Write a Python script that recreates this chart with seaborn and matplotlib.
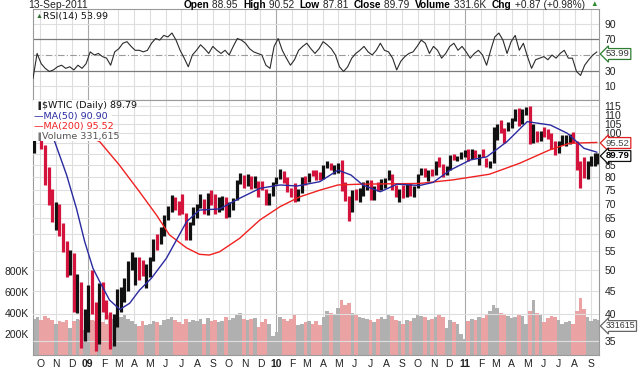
import numpy as np
import pandas as pd
import matplotlib
matplotlib.use("Agg")
import matplotlib.pyplot as plt
from matplotlib.patches import Rectangle
from matplotlib.ticker import FixedLocator, FixedFormatter, NullLocator
import seaborn as sns

# ---------------- data ----------------
week_dates = list(pd.date_range("2008-09-19", "2011-09-09", freq="W-FRI")) + [pd.Timestamp("2011-09-13")]

week_close = [
    104.5, 106.9, 93.9, 77.7, 71.9, 64.2, 67.8, 61.0, 57.0, 49.9, 54.4, 40.8, 46.3, 35.5, 37.7,
    46.3, 40.8, 36.5, 46.5, 41.7, 40.2, 37.5, 38.9, 44.8, 45.5, 46.3, 51.1, 52.4,
    52.5, 52.2, 50.3, 51.6, 53.2, 58.6, 56.3, 61.7, 66.3, 68.4, 72.0, 69.6, 69.2,
    66.7, 59.9, 63.6, 68.1, 69.5, 70.9, 67.5, 73.9, 72.7, 68.0, 69.3, 72.0, 66.0,
    70.0, 71.8, 78.5, 80.5, 77.0, 77.4, 76.4, 76.7, 76.1, 75.5, 69.9, 73.4, 78.1, 79.4,
    82.8, 78.0, 74.5, 72.9, 71.2, 74.1, 79.8, 79.7, 81.5, 81.2, 80.7, 80.0,
    84.9, 84.9, 83.2, 85.1, 86.2, 75.1, 71.6, 70.0, 74.0, 71.5, 73.8, 77.2, 78.9,
    72.1, 76.1, 76.0, 79.0, 79.0, 80.7, 75.4, 73.5, 75.2, 74.6, 76.5, 73.7, 76.5,
    81.6, 82.7, 81.3, 81.7, 81.4, 86.9, 84.9, 81.5, 83.8, 89.2, 87.8, 88.0, 90.8, 91.4,
    88.0, 91.5, 89.1, 89.3, 89.0, 85.6, 86.2, 97.9, 104.4, 101.2, 101.1, 105.4, 107.9,
    112.8, 109.7, 112.3, 113.9, 97.2, 99.7, 99.5, 100.6, 100.2, 99.3, 93.0, 91.2, 94.9,
    96.2, 97.2, 99.9, 95.7, 86.9, 85.4, 82.3, 85.4, 86.5, 87.2, 89.8,
]
week_high = [
    105.0, 120.9, 107.0, 94.5, 84.5, 75.5, 70.5, 70.0, 63.5, 58.0, 55.5, 54.5, 49.0, 47.0, 41.0,
    46.5, 50.0, 42.5, 46.8, 47.0, 43.0, 40.5, 40.0, 45.5, 46.0, 48.0, 52.5, 54.7,
    53.5, 53.5, 52.7, 51.7, 53.5, 58.7, 60.1, 62.3, 66.3, 69.1, 73.2, 72.5, 71.0,
    73.4, 66.8, 63.8, 68.8, 70.0, 73.4, 71.6, 74.0, 75.0, 73.4, 72.5, 73.0, 72.4,
    70.8, 72.0, 78.9, 82.0, 81.0, 81.6, 80.6, 80.5, 78.5, 78.5, 75.5, 74.0, 78.2, 80.0,
    83.5, 82.5, 80.0, 75.9, 77.8, 75.5, 80.0, 80.5, 81.7, 83.2, 83.0, 82.3,
    85.0, 87.1, 86.0, 85.2, 86.2, 87.2, 78.3, 73.0, 75.0, 75.5, 76.0, 78.0, 79.0,
    79.0, 76.5, 78.0, 79.5, 79.6, 82.9, 81.6, 76.9, 75.3, 76.8, 77.4, 77.7, 76.5,
    81.6, 83.8, 84.1, 83.1, 83.5, 87.0, 88.6, 85.6, 84.6, 89.4, 90.0, 89.3, 90.9, 92.1,
    92.6, 92.6, 92.0, 89.9, 92.2, 88.1, 86.9, 103.4, 104.9, 106.9, 103.0, 106.0, 107.9,
    112.9, 113.5, 113.0, 114.0, 114.8, 104.6, 101.0, 101.4, 103.4, 102.4, 100.0, 96.0, 96.0,
    99.4, 99.0, 99.9, 100.6, 96.0, 87.0, 88.5, 86.9, 89.2, 90.5, 90.5,
]
week_low = [
    90.5, 103.5, 92.5, 77.0, 69.5, 63.7, 61.3, 59.5, 54.7, 48.3, 48.8, 40.5, 40.3, 33.8, 35.0,
    36.5, 40.0, 33.2, 34.4, 40.5, 39.0, 33.6, 34.0, 37.5, 40.5, 42.5, 45.0, 50.0,
    46.5, 47.5, 48.5, 45.7, 48.2, 52.5, 55.5, 57.0, 59.5, 64.5, 67.0, 67.8, 66.1,
    66.5, 58.3, 58.3, 63.0, 65.0, 68.5, 66.5, 66.0, 69.5, 66.5, 67.0, 68.0, 65.1,
    65.5, 68.0, 71.5, 77.5, 76.0, 76.5, 75.5, 76.0, 72.4, 75.0, 69.5, 69.5, 73.0, 77.5,
    79.5, 77.8, 74.3, 72.4, 70.8, 71.0, 74.0, 76.8, 78.0, 80.5, 78.9, 79.0,
    79.5, 84.0, 83.0, 81.6, 81.7, 74.8, 71.0, 64.2, 67.2, 71.2, 70.7, 73.0, 74.9,
    71.5, 71.3, 74.5, 75.0, 75.9, 79.0, 74.9, 72.5, 70.8, 71.9, 72.6, 72.8, 72.6,
    75.8, 80.9, 80.1, 78.6, 80.5, 81.0, 84.2, 80.1, 80.8, 83.0, 87.4, 86.8, 87.8, 88.8,
    87.1, 87.6, 88.2, 85.1, 88.5, 84.3, 83.9, 86.0, 96.5, 100.2, 95.2, 101.0, 102.8,
    106.7, 104.0, 105.0, 110.0, 94.6, 95.0, 95.8, 96.0, 98.0, 97.3, 92.4, 89.6, 90.6,
    94.1, 94.0, 94.8, 95.0, 82.9, 75.7, 79.6, 79.2, 84.7, 84.9, 85.5,
]
week_volume_k = [
    340, 360, 330, 370, 350, 330, 300, 320, 310, 330, 260, 320, 340, 330, 240,
    280, 330, 320, 350, 310, 300, 380, 340, 330, 360, 390, 340, 320,
    300, 280, 320, 290, 300, 320, 310, 290, 330, 340, 360, 330, 310,
    300, 340, 310, 330, 320, 340, 300, 350, 320, 330, 310, 320, 360,
    330, 350, 380, 400, 340, 330, 340, 350, 270, 310, 340, 300, 180, 220,
    360, 340, 320, 340, 380, 290, 300, 310, 320, 300, 320, 290,
    360, 420, 400, 380, 450, 520, 480, 500, 400, 380, 360, 350, 340,
    330, 310, 340, 360, 340, 380, 370, 330, 320, 300, 330, 320, 350,
    380, 370, 360, 330, 340, 360, 380, 360, 260, 330, 310, 300, 200, 150,
    320, 340, 330, 360, 350, 380, 420, 480, 450, 400, 380, 370, 350,
    360, 380, 370, 300, 420, 520, 400, 380, 310, 350, 370, 360, 330,
    300, 310, 320, 300, 420, 540, 440, 360, 320, 340, 332,
]
prev_close_before_start = 101.2

ma50_dates = ["2008-09-17", "2008-10-29", "2008-11-21", "2008-12-10", "2008-12-26", "2009-01-11",
              "2009-01-24", "2009-02-12", "2009-03-04", "2009-03-23", "2009-04-11", "2009-05-04",
              "2009-06-02", "2009-07-11", "2009-08-05", "2009-09-13", "2009-10-22", "2009-11-30",
              "2010-01-08", "2010-02-10", "2010-03-26", "2010-04-30", "2010-05-25", "2010-06-17",
              "2010-07-21", "2010-08-22", "2010-10-05", "2010-10-31", "2010-12-03", "2011-01-11",
              "2011-02-12", "2011-03-23", "2011-05-01", "2011-06-15", "2011-07-18", "2011-08-19",
              "2011-09-13"]
ma50_values = [118.5, 95.9, 81.0, 68.4, 57.8, 50.5, 47.2, 43.0, 41.0, 42.3, 45.2, 48.0,
               53.1, 63.9, 67.8, 68.2, 72.0, 75.7, 77.0, 76.6, 78.3, 83.0, 81.0, 77.0,
               74.4, 77.3, 76.8, 78.0, 83.0, 87.4, 88.8, 95.9, 106.1, 104.3, 100.0, 92.7, 90.9]

ma200_dates = ["2008-09-17", "2008-11-15", "2009-01-24", "2009-03-03", "2009-04-11", "2009-05-14",
               "2009-06-08", "2009-07-11", "2009-08-05", "2009-08-24", "2009-09-13", "2009-10-22",
               "2009-11-30", "2010-01-08", "2010-02-15", "2010-03-26", "2010-04-30", "2010-06-11",
               "2010-10-05", "2010-12-08", "2011-02-17", "2011-04-16", "2011-06-13", "2011-07-22",
               "2011-09-13"]
ma200_values = [112.0, 104.0, 95.9, 85.2, 74.4, 66.1, 59.8, 56.0, 54.2, 54.0, 54.9, 58.8,
                64.5, 69.0, 72.5, 75.0, 77.0, 77.3, 77.6, 79.0, 81.3, 85.9, 91.9, 95.1, 95.5]

rsi_values = [20, 52, 39, 33, 29, 31, 35, 37, 33, 35, 31, 37, 33, 39, 54, 50, 52, 48, 46, 37,
              54, 58, 65, 67, 61, 56, 56, 54, 56, 65, 71, 69, 75, 73, 78, 69, 56, 46, 35, 50,
              56, 63, 58, 52, 61, 56, 52, 56, 50, 61, 71, 69, 65, 58, 54, 52, 50, 37, 33, 61,
              71, 56, 46, 37, 44, 56, 61, 65, 58, 52, 58, 67, 63, 58, 50, 35, 29, 35, 46, 52,
              56, 61, 54, 50, 56, 65, 56, 54, 46, 31, 42, 48, 52, 54, 61, 69, 65, 52, 61, 56,
              46, 52, 61, 65, 56, 61, 54, 46, 52, 56, 50, 37, 56, 73, 78, 69, 52, 67, 75, 56,
              65, 48, 33, 44, 46, 48, 44, 50, 46, 52, 56, 46, 46, 29, 24, 37, 44, 50, 53.99]
rsi_start, rsi_end = "2008-09-17", "2011-09-13"

price_ticks = [35, 40, 45, 50, 55, 60, 65, 70, 75, 80, 85, 100, 105, 110, 115]
volume_ticks = [200000, 400000, 600000, 800000]
volume_tick_labels = ["200K", "400K", "600K", "800K"]
rsi_ticks = [10, 30, 70, 90]

header_date = "13-Sep-2011"
header_items = [("Open", "88.95"), ("High", "90.52"), ("Low", "87.81"), ("Close", "89.79"),
                ("Volume", "331.6K"), ("Chg", "+0.87 (+0.98%)")]

# ---------------- styling ----------------
sns.set_theme(style="white")
plt.rcParams["font.family"] = ["Liberation Sans", "DejaVu Sans"]

W, H = 640, 368
fig = plt.figure(figsize=(W / 100, H / 100), dpi=100)
fig.patch.set_facecolor("white")


def rect(x0, y0, x1, y1):
    return [x0 / W, 1 - y1 / H, (x1 - x0) / W, (y1 - y0) / H]


def fx(x):
    return x / W


def fy(y):
    return 1 - y / H


ax_r = fig.add_axes(rect(33, 9, 599, 100))
ax_v = fig.add_axes(rect(33, 100, 599, 355), sharex=ax_r)
ax_p = fig.add_axes(rect(33, 100, 599, 355), sharex=ax_r)
ax_p.patch.set_visible(False)

xmin, xmax = pd.Timestamp("2008-09-17"), pd.Timestamp("2011-09-17")
month_starts = pd.date_range("2008-10-01", "2011-09-01", freq="MS")
month_labels = [f"{d.year % 100:02d}" if d.month == 1 else "JFMAMJJASOND"[d.month - 1] for d in month_starts]

GRID = "#dedede"
YEARGRID = "#a8a8a8"
for ax in (ax_r, ax_v):
    for d in month_starts:
        ax.axvline(d, color=YEARGRID if d.month == 1 else GRID, lw=0.8, zorder=0)

# ---------------- RSI panel ----------------
ax_r.set_ylim(-7.3, 108.6)
for lvl in (10, 90):
    ax_r.axhline(lvl, color=GRID, lw=0.8, zorder=0)
for lvl in (30, 70):
    ax_r.axhline(lvl, color="#7a7a7a", lw=0.9, zorder=1)
ax_r.axhline(50, color="#9a9a9a", lw=0.8, ls=(0, (6, 2, 1, 2)), zorder=1)
rsi_dates = pd.date_range(rsi_start, rsi_end, periods=len(rsi_values))
sns.lineplot(x=rsi_dates, y=rsi_values, ax=ax_r, color="#2b2b2b", lw=0.8, zorder=3)
ax_r.yaxis.tick_right()
ax_r.set_yticks(rsi_ticks)
ax_r.set_yticklabels([str(t) for t in rsi_ticks])
ax_r.tick_params(axis="y", length=0, pad=4, labelsize=7.5, labelcolor="#222222")
ax_r.tick_params(axis="x", length=0, labelbottom=False)
ax_r.set_xlabel("")
ax_r.set_ylabel("")

# ---------------- volume (behind) ----------------
closes = np.array(week_close)
prev = np.concatenate([[prev_close_before_start], closes[:-1]])
up = closes >= prev
vol_colors = np.where(up, "#b0b0b0", "#eaa2a2")
ax_v.bar(week_dates, np.array(week_volume_k) * 1000, width=7.0, color=vol_colors,
         edgecolor="none", zorder=2)
ax_v.set_ylim(0, 2430000)
ax_v.set_yticks(volume_ticks)
ax_v.set_yticklabels(volume_tick_labels)
ax_v.tick_params(axis="y", length=0, pad=3, labelsize=7.5, labelcolor="#222222")

# ---------------- price panel ----------------
ax_p.set_yscale("log")
ax_p.set_ylim(32.55, 118.4)
for t in range(35, 120, 5):
    ax_p.axhline(t, color=GRID, lw=0.8, zorder=0)
bar_colors = np.where(up, "#111111", "#d4143c")
ax_p.vlines(week_dates, week_low, week_high, colors=bar_colors, lw=2.3, zorder=3)
sns.lineplot(x=pd.to_datetime(ma200_dates), y=ma200_values, ax=ax_p, color="#f02020", lw=1.0, zorder=4)
sns.lineplot(x=pd.to_datetime(ma50_dates), y=ma50_values, ax=ax_p, color="#2a2aa0", lw=1.0, zorder=4)
ax_p.yaxis.tick_right()
ax_p.yaxis.set_major_locator(FixedLocator(price_ticks))
ax_p.yaxis.set_major_formatter(FixedFormatter([str(t) for t in price_ticks]))
ax_p.yaxis.set_minor_locator(NullLocator())
ax_p.tick_params(axis="y", which="both", length=0, pad=4, labelsize=7.5, labelcolor="#222222")
ax_p.tick_params(axis="x", length=0, labelbottom=False)
ax_p.set_xlabel("")
ax_p.set_ylabel("")
for s in ax_p.spines.values():
    s.set_visible(False)

# x axis labels on volume axes
ax_v.set_xlim(xmin, xmax)
ax_v.set_xticks(month_starts)
ax_v.set_xticklabels(month_labels)
ax_v.tick_params(axis="x", length=0, pad=3, labelsize=7.5, labelcolor="#222222")
for lab, d in zip(ax_v.get_xticklabels(), month_starts):
    if d.month == 1:
        lab.set_fontweight("bold")

for ax in (ax_r, ax_v):
    for s in ax.spines.values():
        s.set_color("#9a9a9a")
        s.set_linewidth(0.8)

# legend block with white background
ax_p.add_patch(Rectangle((fx(33), fy(141)), fx(112) - fx(33), fy(100) - fy(141),
                         transform=fig.transFigure, facecolor="white", edgecolor="none", zorder=6))
legfont = dict(family=["DejaVu Sans"], fontsize=6.8, va="center", ha="left")
fig.text(fx(35), fy(105.5), "\u2590", color="#222222", fontsize=5, va="center", ha="left", zorder=10)
fig.text(fx(42), fy(105.5), "$WTIC (Daily) 89.79", color="#111111", zorder=10, **legfont)
fig.text(fx(34), fy(116), "\u2014MA(50) 90.90", color="#2a2aa0", zorder=10, **legfont)
fig.text(fx(34), fy(126.5), "\u2014MA(200) 95.52", color="#f02020", zorder=10, **legfont)
fig.text(fx(42), fy(137), "Volume 331,615", color="#555555", zorder=10, **legfont)
fig.text(fx(35), fy(137), "\u2590", color="#777777", fontsize=5, va="center", ha="left", zorder=10)
fig.text(fx(36), fy(17), "\u25b2", color="#2e6b2e", fontsize=5, va="center", ha="left")
fig.text(fx(43), fy(17), "RSI(14) 53.99", color="#111111", **legfont)


# right-hand value boxes
def vbox(y, s, ec, tc="#333333", weight="normal", size=6.8):
    fig.text(fx(606), fy(y), s, color=tc, fontsize=size, fontweight=weight, va="center", ha="left",
             bbox=dict(boxstyle="larrow,pad=0.1", fc="white", ec=ec, lw=0.9), zorder=20)


vbox(54, "53.99", "#2e7d32")
vbox(143, "95.52", "#e02020", tc="#444444")
vbox(156, "89.79", "#111111", tc="#000000", weight="bold")
vbox(326, "331615", "#666666", size=6.3)

# header
fig.text(fx(28), fy(5), header_date, fontsize=7.5, color="#222222", va="center", ha="left")
renderer = fig.canvas.get_renderer()
pieces = []
for k, v in header_items:
    pieces.append((k, "bold", "#000000", 7.3))
    pieces.append((" " + v + "  ", "normal", "#222222", 7.3))
pieces.append(("\u25b2", "normal", "#2e8b2e", 5.5))
texts = []
total = 0.0
for s, w, c, sz in pieces:
    t = fig.text(0, fy(5), s, fontsize=sz, fontweight=w, color=c, va="center", ha="left")
    wpx = t.get_window_extent(renderer).width
    texts.append((t, wpx))
    total += wpx
x = 598 - total
for t, wpx in texts:
    t.set_x(fx(x))
    x += wpx

fig.savefig("out.png", dpi=100, facecolor="white")
